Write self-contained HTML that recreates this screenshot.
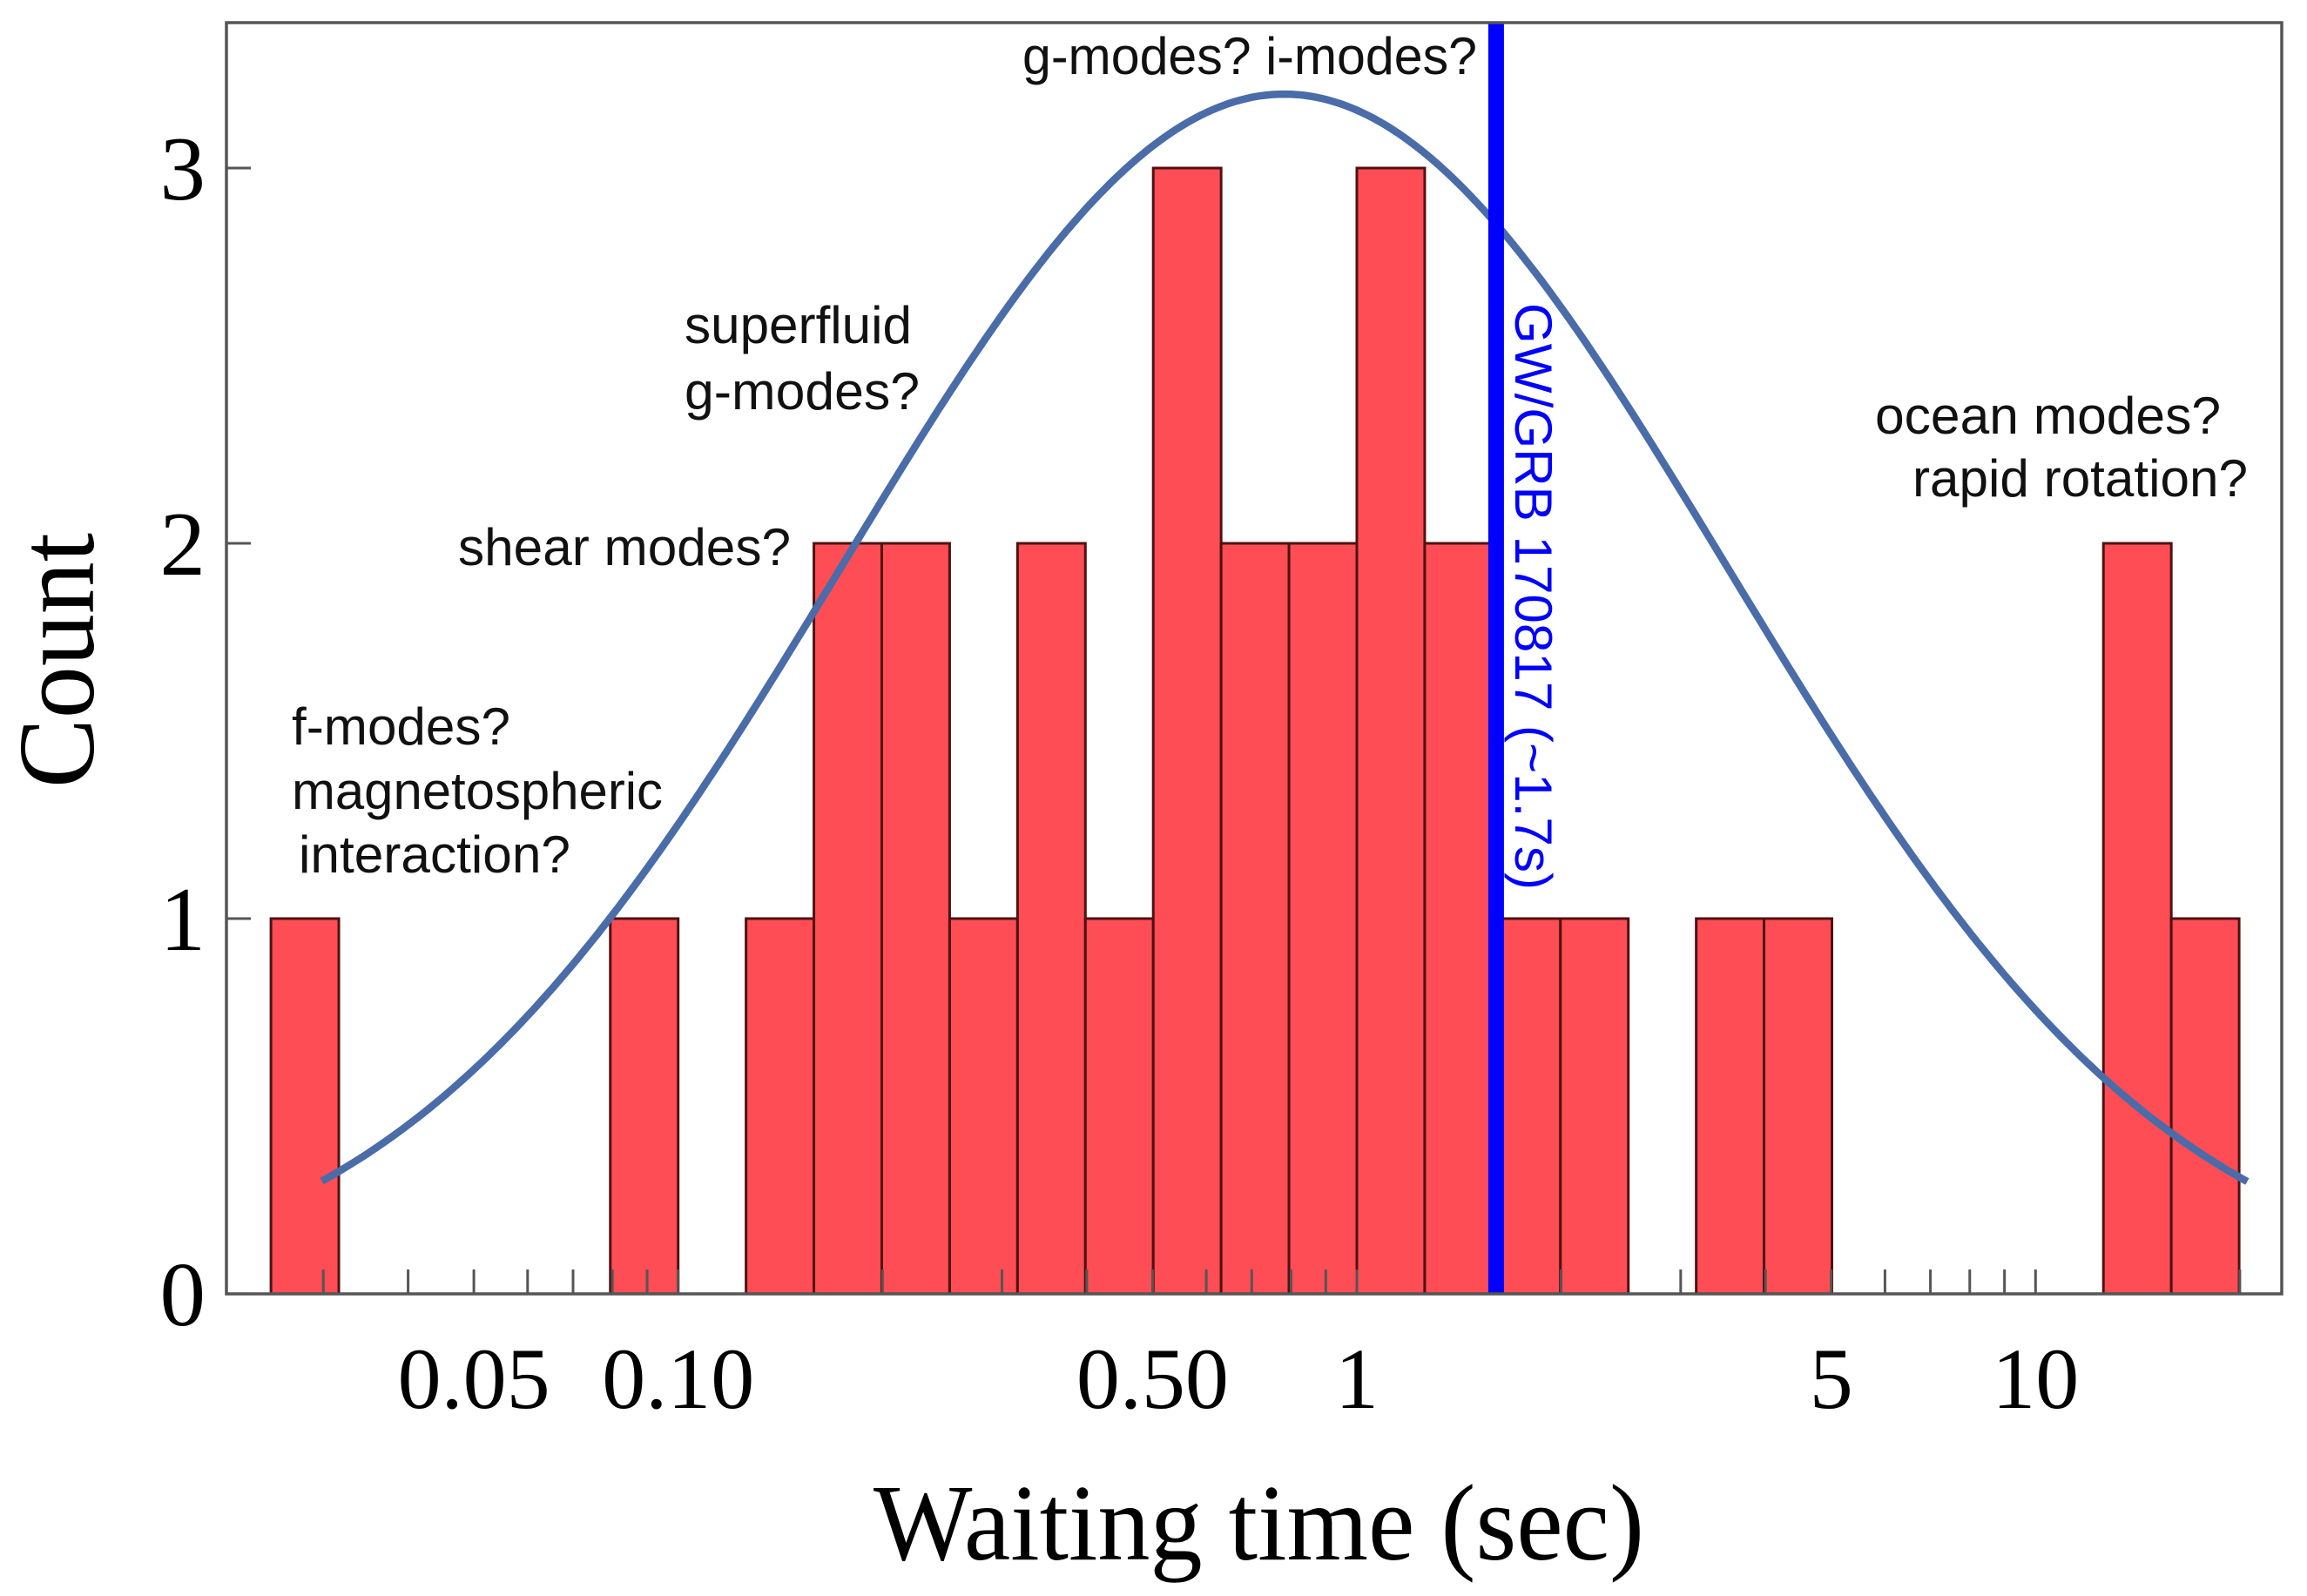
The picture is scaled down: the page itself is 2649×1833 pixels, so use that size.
<!DOCTYPE html>
<html><head><meta charset="utf-8"><style>
html,body{margin:0;padding:0;background:#fff;}
svg{display:block;}
</style></head><body>
<svg id="chart" width="2649" height="1833" viewBox="0 0 2649 1833" xmlns="http://www.w3.org/2000/svg">
<rect x="0" y="0" width="2649" height="1833" fill="#fff"/>
<g id="bars"></g>
<g id="curve"></g>
<g id="axes"></g>
<g id="annot" font-family="'Liberation Sans', sans-serif" font-size="60" fill="#111">
<text x="1174" y="85" textLength="522" lengthAdjust="spacingAndGlyphs">g-modes? i-modes?</text>
<text x="786" y="394" textLength="261" lengthAdjust="spacingAndGlyphs">superfluid</text>
<text x="786" y="470" textLength="270" lengthAdjust="spacingAndGlyphs">g-modes?</text>
<text x="526" y="649" textLength="382" lengthAdjust="spacingAndGlyphs">shear modes?</text>
<text x="335" y="855" textLength="251" lengthAdjust="spacingAndGlyphs">f-modes?</text>
<text x="335" y="929" textLength="426" lengthAdjust="spacingAndGlyphs">magnetospheric</text>
<text x="343" y="1002" textLength="312" lengthAdjust="spacingAndGlyphs">interaction?</text>
<text x="2153" y="498" textLength="397" lengthAdjust="spacingAndGlyphs">ocean modes?</text>
<text x="2196" y="570" textLength="385" lengthAdjust="spacingAndGlyphs">rapid rotation?</text>
</g>
<text x="0" y="0" transform="translate(1740,348) rotate(90)" font-family="'Liberation Sans', sans-serif" font-size="60" fill="#0000ff" textLength="674" lengthAdjust="spacingAndGlyphs">GW/GRB 170817 (~1.7s)</text>
<text x="0" y="0" transform="translate(107,905) rotate(-90)" font-family="'Liberation Serif', serif" font-size="125" fill="#000" textLength="293" lengthAdjust="spacingAndGlyphs">Count</text>
<text x="1003" y="1791" font-family="'Liberation Serif', serif" font-size="125" fill="#000" textLength="885" lengthAdjust="spacingAndGlyphs">Waiting time (sec)</text>
</svg>
<script>
const binStartLog = -1.6;
const binWidthLog = 0.1;
const counts = [1,0,0,0,0,1,0,1,2,2,1,2,1,3,2,2,3,2,1,1,0,1,1,0,0,0,0,2,1];
const yTicks = [0,1,2,3];
const xTickLabels = ["0.05","0.10","0.50","1","5","10"];
const xTickValues = [0.05,0.1,0.5,1,5,10];
const minorTicks = [0.03,0.04,0.05,0.06,0.07,0.08,0.09,0.1,0.2,0.3,0.4,0.5,0.6,0.7,0.8,0.9,1,2,3,4,5,6,7,8,9,10,20];
const fitMu = -0.107;
const fitSigma = 0.652;
const fitPeak = 3.197;
const fitRange = [-1.525, 1.312];
const gwTime = 1.604;

const NS = 'http://www.w3.org/2000/svg';
const L = 260, R = 2620, T = 26, B = 1486;
function xl(lg){ return 1558 + 779.3*lg; }
function xs(t){ return xl(Math.log10(t)); }
function ys(c){ return 1486 - 431*c; }
function mk(tag, attrs, parent){
  const e = document.createElementNS(NS, tag);
  for (const k in attrs) e.setAttribute(k, attrs[k]);
  parent.appendChild(e);
  return e;
}
const bars = document.getElementById('bars');
counts.forEach((c,i)=>{
  if (c <= 0) return;
  const x0 = xl(binStartLog + i*binWidthLog), x1 = xl(binStartLog + (i+1)*binWidthLog);
  const r = mk('rect', {x:x0, y:ys(c), width:x1-x0, height:ys(0)-ys(c), fill:'#fe4d55', stroke:'#4e1212', 'stroke-width':3}, bars);
  
  
});
const cg = document.getElementById('curve');
let d = '';
for (let i=0;i<=300;i++){
  const lg = fitRange[0] + (fitRange[1]-fitRange[0])*i/300;
  const c = fitPeak*Math.exp(-0.5*Math.pow((lg-fitMu)/fitSigma,2));
  d += (i?'L':'M') + xl(lg).toFixed(1) + ',' + ys(c).toFixed(1);
}
const p = mk('path', {d:d, fill:'none', stroke:'#4a6ca8', 'stroke-width':8.5, 'stroke-linecap':'butt'}, cg);


const gl = mk('line', {x1:xs(gwTime), x2:xs(gwTime), y1:T, y2:B, stroke:'#0000ff', 'stroke-width':18}, cg);



const ax = document.getElementById('axes');
const fr = mk('rect', {x:L, y:T, width:R-L, height:B-T, fill:'none', stroke:'#555', 'stroke-width':3.5}, ax);


minorTicks.forEach(t=>{
  const tk = mk('line', {x1:xs(t), x2:xs(t), y1:B, y2:B-28, stroke:'#555', 'stroke-width':3}, ax);
  
  
});
xTickValues.forEach((t,i)=>{
  const tx = mk('text', {x:xs(t), y:1617, 'text-anchor':'middle', 'font-family':"'Liberation Serif', serif", 'font-size':100, fill:'#000'}, ax);
  tx.textContent = xTickLabels[i];
  
  
});
yTicks.forEach(v=>{
  const tk = mk('line', {x1:L, x2:L+28, y1:ys(v), y2:ys(v), stroke:'#555', 'stroke-width':3}, ax);
  
  
  const tx = mk('text', {x:236, y:ys(v)+36, 'text-anchor':'end', 'font-family':"'Liberation Serif', serif", 'font-size':105, fill:'#000'}, ax);
  tx.textContent = String(v);
  
  
});
</script>
</body></html>
